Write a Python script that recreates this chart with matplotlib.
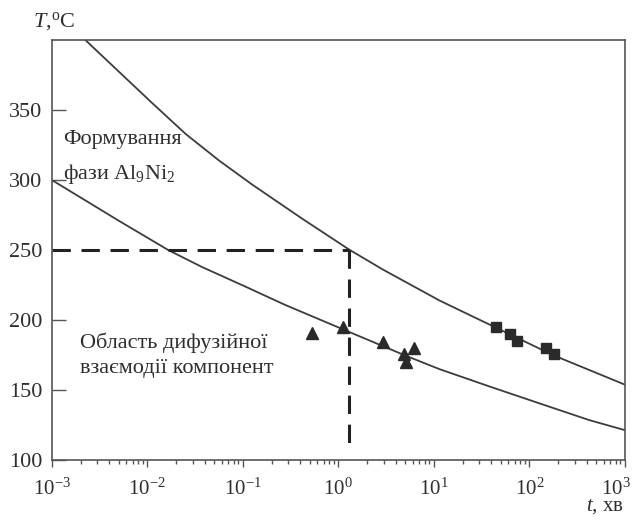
import matplotlib.pyplot as plt
from matplotlib.transforms import ScaledTranslation

# -----------------------------
# Data
# -----------------------------
# upper curve: formation of the Al9Ni2 phase
upper_t = [0.00224, 0.00501, 0.01122, 0.0251, 0.0562, 0.124, 0.417, 1.29,
           2.95, 11.5, 43.6, 178, 1000]
upper_T = [400, 377.5, 355, 333, 314, 297, 272.5, 250.5, 236, 214, 195, 175,
           154]

# lower curve: diffusion interaction boundary
lower_t = [0.001, 0.00224, 0.00501, 0.0166, 0.0372, 0.106, 0.275, 1.07, 5.13,
           11.5, 38.9, 129, 427, 1000]
lower_T = [300, 285.5, 271, 250, 238, 224, 211, 194, 174.5, 165, 152.5,
           140.5, 128.6, 121.5]

tri_t = [0.53, 1.12, 2.94, 4.85, 5.09, 6.17]
tri_T = [190.7, 194.8, 184.5, 176, 170, 179.8]

sq_t = [44.6, 62.5, 73.5, 149, 182]
sq_T = [194.8, 189.8, 185.2, 179.8, 175.5]

# guide point (dashed lines)
guide_t = 1.29
guide_T = 250
guide_T_bottom = 110

# -----------------------------
# Style
# -----------------------------
plt.rcParams.update({
    "font.family": "Liberation Serif",
    "mathtext.fontset": "custom",
    "mathtext.rm": "Liberation Serif",
    "mathtext.it": "Liberation Serif:italic",
    "font.size": 15,
})

line_col = '#3c3c3c'
mark_col = '#2a2a2a'
text_col = '#2e2e2e'


def main():
    fig = plt.figure(figsize=(6.33, 5.23), dpi=100)
    ax = fig.add_axes([0.082, 0.120, 0.905, 0.8035])

    ax.plot(upper_t, upper_T, color=line_col, lw=1.3)
    ax.plot(lower_t, lower_T, color=line_col, lw=1.3)

    # dashed guide lines
    ax.plot([1e-3, guide_t], [guide_T, guide_T], color='#222222', lw=2.2,
            dashes=(6, 3.5))
    ax.plot([guide_t, guide_t], [guide_T, guide_T_bottom], color='#222222',
            lw=2.2, dashes=(6, 3.5))

    ax.plot(tri_t, tri_T, '^', color=mark_col, markersize=8.5, zorder=4)
    ax.plot(sq_t, sq_T, 's', color=mark_col, markersize=7, zorder=4)

    # -----------------------------
    # Axes
    # -----------------------------
    ax.set_xscale('log')
    ax.set_xlim(1e-3, 1e3)
    ax.set_ylim(100, 400)
    ax.set_yticks([100, 150, 200, 250, 300, 350])
    ax.set_xticks([1e-3, 1e-2, 1e-1, 1e0, 1e1, 1e2, 1e3])

    ax.tick_params(axis='y', direction='in', length=10, width=1,
                   color='#555555', pad=7, labelsize=16, labelcolor=text_col)
    ax.tick_params(axis='x', which='major', direction='out', length=5,
                   width=1, color='#555555', pad=8, labelsize=15,
                   labelcolor=text_col)
    ax.tick_params(axis='x', which='minor', direction='out', length=3,
                   width=1, color='#555555')
    for s in ax.spines.values():
        s.set_color('#555555')
        s.set_linewidth(1.2)

    # pull the last x label in a little, as in the original
    fig.canvas.draw()
    last = ax.get_xticklabels()[-1]
    last.set_transform(last.get_transform() +
                       ScaledTranslation(-0.09, 0, fig.dpi_scale_trans))

    # axis labels
    fig.text(0.052, 0.958, r'$T$,$^{\rm o}$C', fontsize=16, color=text_col,
             ha='left', va='center')
    fig.text(0.985, 0.032, r'$t$, хв', fontsize=15, color=text_col,
             ha='right', va='center')

    # region labels
    ax.text(1.3e-3, 329, 'Формування', fontsize=16, color=text_col,
            va='center')
    ax.text(1.3e-3, 304, r'фази Al$_9$Ni$_2$', fontsize=16, color=text_col,
            va='center')
    ax.text(1.96e-3, 184, 'Область дифузійної', fontsize=16, color=text_col,
            va='center')
    ax.text(1.96e-3, 165.5, 'взаємодії компонент', fontsize=16,
            color=text_col, va='center')

    plt.savefig('out.png', dpi=100)


if __name__ == "__main__":
    main()
